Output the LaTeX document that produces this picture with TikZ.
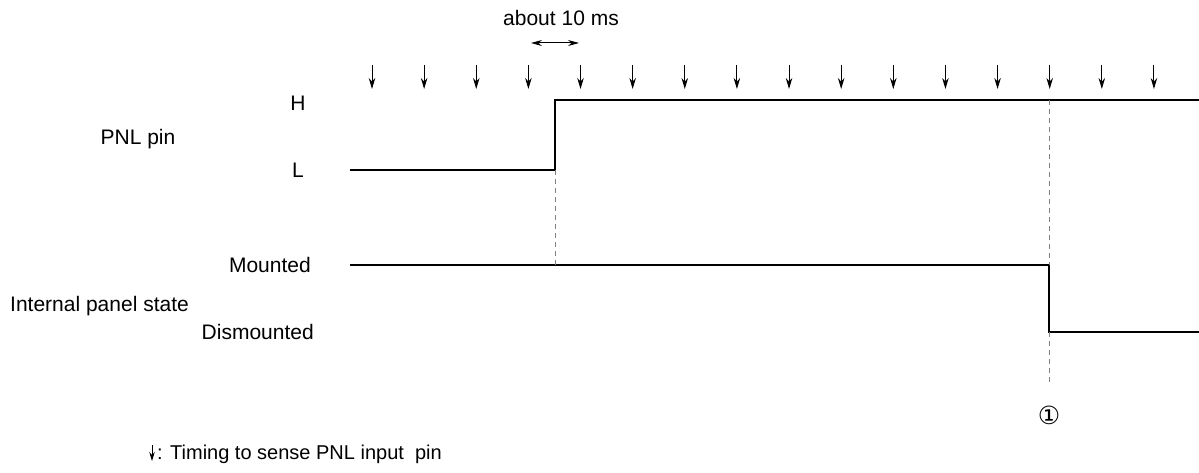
\documentclass[tikz,border=0pt]{standalone}
\usepackage{fontspec}
\setmainfont{Liberation Sans}
\newfontfamily\symfont{DejaVu Sans}
\usetikzlibrary{arrows.meta}
\begin{document}
\begin{tikzpicture}[x=1pt,y=-1pt,
  font=\fontsize{21}{25}\selectfont,
  sig/.style={line width=2.4pt, line join=miter},
  guide/.style={gray, line width=1pt, dash pattern=on 5pt off 4pt},
  tick/.style={line width=1pt, -{Stealth[length=11pt,width=6.5pt]}},
  span/.style={line width=1pt, {Stealth[length=11pt,width=6pt]}-{Stealth[length=11pt,width=6pt]}},
  lbl/.style={inner sep=0pt, anchor=base}]
\useasboundingbox (0,0) rectangle (1199,473);
% sampling ticks
\foreach \i in {0,...,15} {
  \coordinate (ta\i) at ({372+52.13*\i},65);
  \coordinate (tb\i) at ({372+52.13*\i},89);
  \draw[tick] (ta\i) -- (tb\i);
}
% about 10 ms
\node[lbl] (about) at (561,26) {about 10 ms};
\coordinate (da) at (531,43);
\coordinate (db) at (579,43);
\draw[span] (da) -- (db);
% PNL pin signal
\coordinate (p0) at (350,170);
\coordinate (p1) at (555,170);
\coordinate (p2) at (555,100);
\coordinate (p3) at (1199,100);
\draw[sig] (p0) -- (p1) -- (p2) -- (p3);
% internal state
\coordinate (m0) at (350,265);
\coordinate (m1) at (1049,265);
\coordinate (m2) at (1049,332);
\coordinate (m3) at (1199,332);
\draw[sig] (m0) -- (m1) -- (m2) -- (m3);
% guides
\coordinate (g1) at (555,265);
\draw[guide] (p1) -- (g1);
\coordinate (g2) at (1049,100);
\coordinate (g3) at (1049,383);
\draw[guide] (g2) -- (m1);
\draw[guide] (m2) -- (g3);
% labels
\node[lbl] (H) at (298,111) {H};
\node[lbl] (L) at (298,178) {L};
\node[lbl] (pnl) at (138,145) {PNL pin};
\node[lbl, anchor=base east] (mnt) at (311,272) {Mounted};
\node[lbl, anchor=base west] (ips) at (10,311) {Internal panel state};
\node[lbl, anchor=base east] (dis) at (314,339) {Dismounted};
\node[inner sep=0pt] (one) at (1049,415) {\symfont\fontsize{25}{28}\selectfont ①};
% legend
\coordinate (la) at (152,445);
\coordinate (lb) at (152,461);
\draw[line width=1pt, -{Stealth[length=9pt,width=5.5pt]}] (la) -- (lb);
\node[lbl, anchor=base west, font=\fontsize{20}{24}\selectfont] (leg) at (157,459) {: Timing to sense PNL input\ \ pin};
\end{tikzpicture}
\end{document}
